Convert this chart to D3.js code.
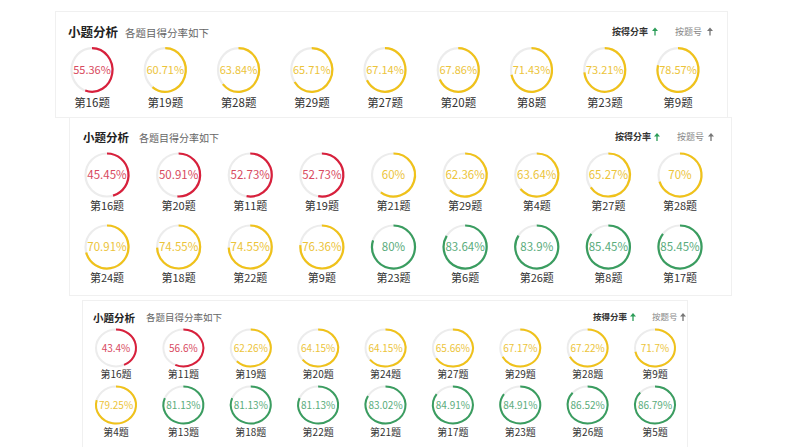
<!DOCTYPE html>
<html><head><meta charset="utf-8">
<script src="https://cdn.jsdelivr.net/npm/d3@7/dist/d3.min.js"></script>
<style>
html,body{margin:0;padding:0;background:#fff;}
svg{display:block;font-family:"Noto Sans CJK SC","Noto Sans",sans-serif;}
</style></head>
<body><svg id="c" width="794" height="447"></svg>
<script>
// ---- data ----
const title = "小题分析";
const subtitle = "各题目得分率如下";
const sortLabels = ["按得分率", "按题号"];

const p1Labels = ["第16题","第19题","第28题","第29题","第27题","第20题","第8题","第23题","第9题"];
const p1Values = [55.36,60.71,63.84,65.71,67.14,67.86,71.43,73.21,78.57];

const p2Labels = ["第16题","第20题","第11题","第19题","第21题","第29题","第4题","第27题","第28题",
                  "第24题","第18题","第22题","第9题","第23题","第6题","第26题","第8题","第17题"];
const p2Values = [45.45,50.91,52.73,52.73,60,62.36,63.64,65.27,70,
                  70.91,74.55,74.55,76.36,80,83.64,83.9,85.45,85.45];

const p3Labels = ["第16题","第11题","第19题","第20题","第24题","第27题","第29题","第28题","第9题",
                  "第4题","第13题","第18题","第22题","第21题","第17题","第23题","第26题","第5题"];
const p3Values = [43.4,56.6,62.26,64.15,64.15,65.66,67.17,67.22,71.7,
                  79.25,81.13,81.13,81.13,83.02,84.91,84.91,86.52,86.79];

// ---- layout ----
const panels = [
  {labels:p1Labels, values:p1Values, box:[55,11,672,106], titleX:68, titleY:33, subX:125,
   x0:92, x1:678, rows:[70], labY:[103], rx:20.5, ry:21.8, sw:2.2,
   sortX:[612,675], arrowX:[655,710], sortY:31.5,
   fs:{title:12.5, sub:10.5, pct:11, lab:11.5, sort:9}},
  {labels:p2Labels, values:p2Values, box:[69,117,662,178], titleX:83, titleY:138, subX:139,
   x0:107, x1:680, rows:[175,247], labY:[206,278], rx:21.5, ry:21.5, sw:2.2,
   sortX:[615,677], arrowX:[657,711], sortY:137,
   fs:{title:11.5, sub:10, pct:11.5, lab:11, sort:9}},
  {labels:p3Labels, values:p3Values, box:[82,300,605,160], titleX:93, titleY:318, subX:146,
   x0:116, x1:655, rows:[348,405], labY:[374,432], rx:20, ry:18.5, sw:2,
   sortX:[593,652], arrowX:[633,683], sortY:317,
   fs:{title:10.5, sub:9.5, pct:10, lab:10, sort:8.5}}
];

const colorFor = v => v < 60 ? "#d8203c" : (v < 80 ? "#f0c21a" : "#3a9d60");
const textColorFor = v => v < 60 ? "#d84a60" : (v < 80 ? "#ecc43a" : "#5aac7c");

const svg = d3.select("#c");
const angle = d3.scaleLinear().domain([0,100]).range([0, 2*Math.PI]);

panels.forEach(p => {
  const g = svg.append("g");
  const [bx,by,bw,bh] = p.box;
  g.append("rect").attr("x",bx+0.5).attr("y",by+0.5).attr("width",bw).attr("height",bh)
    .attr("fill","#fff").attr("stroke","#f0f0f0").attr("stroke-width",1);
  g.append("text").attr("x",p.titleX).attr("y",p.titleY).attr("dy","0.35em")
    .attr("font-size",p.fs.title).attr("font-weight","bold").attr("fill","#222").text(title);
  g.append("text").attr("x",p.subX).attr("y",p.titleY).attr("dy","0.35em")
    .attr("font-size",p.fs.sub).attr("fill","#666").text(subtitle);
  sortLabels.forEach((s,i) => {
    g.append("text").attr("x",p.sortX[i]).attr("y",p.sortY).attr("dy","0.35em")
      .attr("font-size",p.fs.sort).attr("font-weight", i===0 ? "bold" : "normal")
      .attr("fill", i===0 ? "#333" : "#888").text(s);
    const ax = p.arrowX[i], ay = p.sortY, c = i===0 ? "#2c9d58" : "#777";
    g.append("line").attr("x1",ax).attr("x2",ax).attr("y1",ay-2).attr("y2",ay+4)
      .attr("stroke",c).attr("stroke-width",1.3);
    g.append("path").attr("d",`M${ax-3},${ay-0.5} L${ax},${ay-4} L${ax+3},${ay-0.5} Z`).attr("fill",c);
  });

  const perRow = 9;
  const xs = d3.scaleLinear().domain([0, perRow-1]).range([p.x0, p.x1]);
  const items = p.values.map((v,i) => ({v, label:p.labels[i], col:i%perRow, row:Math.floor(i/perRow)}));
  const cell = g.selectAll("g.cell").data(items).join("g").attr("class","cell")
    .attr("transform", d => `translate(${xs(d.col)},${p.rows[d.row]})`);
  const ring = cell.append("g").attr("transform", `scale(${p.rx},${p.ry})`);
  ring.append("ellipse").attr("rx",1).attr("ry",1).attr("fill","none")
    .attr("stroke","#ececec").attr("stroke-width",p.sw).attr("vector-effect","non-scaling-stroke");
  ring.append("path")
    .attr("d", d => {
      const a = angle(d.v), r = 1;
      const x = Math.sin(a)*r, y = -Math.cos(a)*r;
      const large = a > Math.PI ? 1 : 0;
      return `M0,${-r} A${r},${r} 0 ${large} 1 ${x},${y}`;
    })
    .attr("fill","none").attr("stroke", d => colorFor(d.v)).attr("stroke-width",p.sw)
    .attr("vector-effect","non-scaling-stroke");
  cell.append("text").attr("text-anchor","middle").attr("dy","0.36em")
    .attr("font-size",p.fs.pct).attr("fill", d => textColorFor(d.v))
    .text(d => d3.format("")(d.v) + "%");
  cell.append("text").attr("text-anchor","middle")
    .attr("y", d => p.labY[d.row] - p.rows[d.row]).attr("dy","0.35em")
    .attr("font-size",p.fs.lab).attr("fill","#333").text(d => d.label);
});
</script></body></html>
